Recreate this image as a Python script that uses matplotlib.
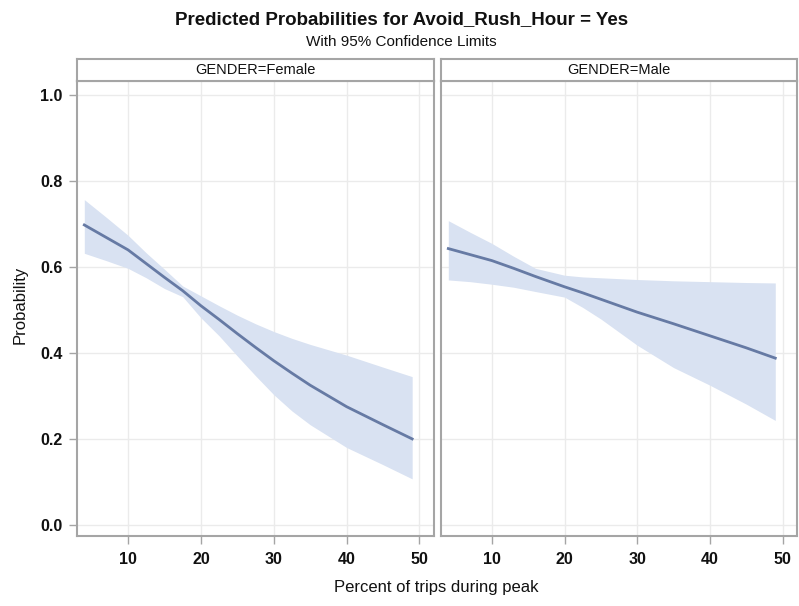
import matplotlib
matplotlib.use("Agg")
import matplotlib.pyplot as plt

plt.rcParams["font.family"] = ["Liberation Sans", "DejaVu Sans"]

titulo = "Predicted Probabilities for Avoid_Rush_Hour = Yes"
subtitulo = "With 95% Confidence Limits"
legenda_x = "Percent of trips during peak"
legenda_y = "Probability"
paineis = ["GENDER=Female", "GENDER=Male"]

# valores
fem_x = [4, 7, 10, 12.5, 15, 17.5, 20, 22.5, 25, 27.5, 30, 32.5, 35, 40, 45, 49]
fem_prob = [0.698, 0.669, 0.640, 0.608, 0.576, 0.545, 0.510, 0.478, 0.445,
            0.413, 0.382, 0.353, 0.325, 0.275, 0.233, 0.200]
fem_inf = [0.632, 0.615, 0.597, 0.575, 0.550, 0.531, 0.482, 0.440, 0.393,
           0.347, 0.303, 0.265, 0.233, 0.180, 0.140, 0.107]
fem_sup = [0.757, 0.716, 0.674, 0.633, 0.595, 0.556, 0.533, 0.510, 0.488,
           0.468, 0.450, 0.434, 0.420, 0.395, 0.367, 0.345]

mas_x = [4, 7, 10, 13, 16, 20, 22.5, 25, 30, 35, 40, 45, 49]
mas_prob = [0.643, 0.629, 0.615, 0.597, 0.578, 0.554, 0.540, 0.525, 0.495,
            0.468, 0.440, 0.412, 0.388]
mas_inf = [0.570, 0.566, 0.560, 0.553, 0.543, 0.530, 0.506, 0.479, 0.418,
           0.366, 0.325, 0.281, 0.243]
mas_sup = [0.708, 0.681, 0.655, 0.625, 0.597, 0.581, 0.577, 0.575, 0.571,
           0.568, 0.566, 0.564, 0.563]

x_ticks = [10, 20, 30, 40, 50]
y_ticks = [0.0, 0.2, 0.4, 0.6, 0.8, 1.0]

cor_linha = "#667aa4"
cor_banda = "#d9e2f2"
cor_borda = "#a5a5a5"
cor_grade = "#ebebeb"
cor_texto = "#111111"


def desenha_painel(fig, pos, nome, x, prob, inf, sup, mostra_y):
    ax = fig.add_axes(pos)
    ax.fill_between(x, inf, sup, color=cor_banda, linewidth=0, zorder=2)
    ax.plot(x, prob, color=cor_linha, linewidth=2, zorder=3)
    ax.set_xlim(3, 52)
    ax.set_ylim(-0.026, 1.033)
    ax.set_xticks(x_ticks)
    ax.set_yticks(y_ticks)
    ax.set_yticklabels(["%.1f" % v for v in y_ticks])
    ax.grid(True, color=cor_grade, linewidth=1, zorder=0)
    ax.set_axisbelow(True)
    for s in ax.spines.values():
        s.set_color(cor_borda)
        s.set_linewidth(1.5)
    ax.tick_params(axis="both", color=cor_borda, length=6, width=1,
                   labelsize=11.5, labelcolor=cor_texto)
    ax.tick_params(axis="x", pad=5.5)
    ax.tick_params(axis="y", pad=4.5)
    for t in ax.get_xticklabels() + ax.get_yticklabels():
        t.set_fontweight("bold")
    if not mostra_y:
        ax.tick_params(axis="y", left=False, labelleft=False)

    # faixa do cabecalho
    cab = fig.add_axes([pos[0], pos[1] + pos[3], pos[2], 0.0363])
    cab.set_xticks([])
    cab.set_yticks([])
    for s in cab.spines.values():
        s.set_color(cor_borda)
        s.set_linewidth(1.5)
    cab.text(0.5, 0.48, nome, ha="center", va="center", fontsize=10.5,
             color=cor_texto, transform=cab.transAxes)
    return ax


fig = plt.figure(figsize=(7.99, 6.06), dpi=100)
desenha_painel(fig, [0.0964, 0.1155, 0.4468, 0.7508], paineis[0],
               fem_x, fem_prob, fem_inf, fem_sup, True)
desenha_painel(fig, [0.552, 0.1155, 0.4456, 0.7508], paineis[1],
               mas_x, mas_prob, mas_inf, mas_sup, False)

fig.text(0.502, 0.967, titulo, ha="center", va="center", fontsize=13.5,
         fontweight="bold", color=cor_texto)
fig.text(0.502, 0.931, subtitulo, ha="center", va="center", fontsize=11,
         color=cor_texto)
fig.text(0.546, 0.030, legenda_x, ha="center", va="center", fontsize=12,
         color=cor_texto)
fig.text(0.025, 0.497, legenda_y, ha="center", va="center", fontsize=12,
         rotation=90, color=cor_texto)

fig.savefig("out.png", dpi=100)
